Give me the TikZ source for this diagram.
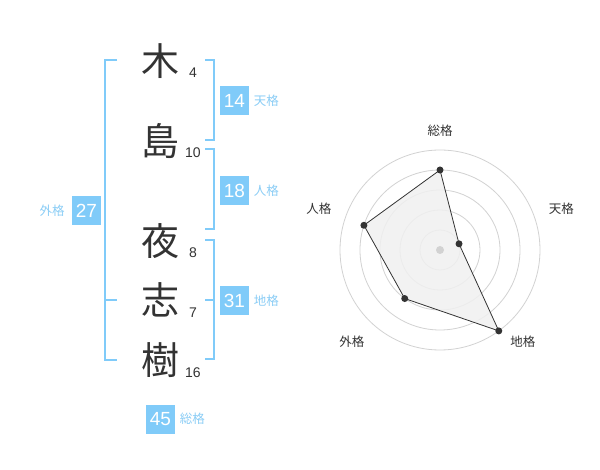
\documentclass[tikz,border=0pt]{standalone}
\usepackage{fontspec}
\setmainfont{Liberation Sans}
\newfontfamily\jpfont{Noto Sans CJK JP}
\usetikzlibrary{positioning}
\definecolor{seiblue}{HTML}{80CBF9}
\definecolor{seilabel}{HTML}{8ACDF6}
\definecolor{inkgray}{HTML}{333333}
\definecolor{ringgray}{HTML}{D2D2D2}
\definecolor{areagray}{HTML}{F0F0F0}
\tikzset{
  kanji/.style={font=\jpfont\fontsize{38}{38}\selectfont, text=inkgray, inner sep=0pt},
  strokes/.style={font=\fontsize{14}{14}\selectfont, text=inkgray, inner sep=0pt},
  kakubox/.style={fill=seiblue, text=white, font=\fontsize{19}{19}\selectfont, minimum size=29pt, inner sep=0pt},
  kakuname/.style={font=\jpfont\fontsize{12.5}{12.5}\selectfont, text=seilabel, inner sep=0pt},
  axisname/.style={font=\jpfont\fontsize{12.5}{12.5}\selectfont, text=inkgray, inner sep=0pt},
  bracket/.style={draw=seiblue, line width=2pt},
  ring/.style={draw=ringgray, line width=0.8pt},
  vdot/.style={circle, fill=inkgray, inner sep=0pt, minimum size=7pt},
}
\begin{document}
\begin{tikzpicture}[x=1pt,y=-1pt]
			\useasboundingbox[fill=white] (0,0) rectangle (600,470);
			% name characters and stroke counts
			\node[kanji] (c1) at (160,61) {木};
			\node[kanji] (c2) at (160,141) {島};
			\node[kanji] (c3) at (160,241) {夜};
			\node[kanji] (c4) at (160,300) {志};
			\node[kanji] (c5) at (160,360) {樹};
			\node[strokes] (s1) at (193,73) {4};
			\node[strokes] (s2) at (193,153) {10};
			\node[strokes] (s3) at (193,253) {8};
			\node[strokes] (s4) at (193,313) {7};
			\node[strokes] (s5) at (193,373) {16};
			
			% brackets
			\draw[bracket] (117,60) -- (105,60) -- (105,360) -- (117,360);
			\draw[bracket] (105,300) -- (117,300);
			\draw[bracket] (205,60) -- (214,60) -- (214,140) -- (205,140);
			\draw[bracket] (205,149) -- (214,149) -- (214,229) -- (205,229);
			\draw[bracket] (205,240) -- (214,240) -- (214,359) -- (205,359);
			\draw[bracket] (205,300) -- (214,300);
			
			% values
			\node[kakubox] (ten) at (234.5,100.5) {14};
			\node[kakuname, right=4.5pt of ten] (tenl) {天格};
			\node[kakubox] (jin) at (234.5,190.5) {18};
			\node[kakuname, right=4.5pt of jin] (jinl) {人格};
			\node[kakubox] (chi) at (234.5,300.5) {31};
			\node[kakuname, right=4.5pt of chi] (chil) {地格};
			\node[kakubox] (gai) at (86.5,210.5) {27};
			\node[kakuname, left=7pt of gai] (gail) {外格};
			\node[kakubox] (sou) at (160.5,419) {45};
			\node[kakuname, right=4.5pt of sou] (soul) {総格};
			
			% radar chart
			\begin{scope}[shift={(440,250)},yscale=-1]
				\foreach \r in {20,40,60,80,100}
					\draw[ring] (0,0) circle (\r);
				\coordinate (psou) at (90:80);
				\coordinate (pten) at (18:20);
				\coordinate (pchi) at (-54:100);
				\coordinate (pgai) at (234:60);
				\coordinate (pjin) at (162:80);
				\draw[fill=areagray, fill opacity=0.85, draw=inkgray, line width=0.8pt]
					(psou) -- (pten) -- (pchi) -- (pgai) -- (pjin) -- cycle;
				\fill[ringgray] (0,0) circle (4);
				\node[vdot] at (psou) {};
				\node[vdot] at (pten) {};
				\node[vdot] at (pchi) {};
				\node[vdot] at (pgai) {};
				\node[vdot] at (pjin) {};
				\node[axisname] (asou) at (90:119) {総格};
				\node[axisname] (aten) at (18.6:128) {天格};
				\node[axisname] (achi) at (-48:124) {地格};
				\node[axisname] (agai) at (226:127) {外格};
				\node[axisname] (ajin) at (161.3:128) {人格};
			\end{scope}
		\end{tikzpicture}
\end{document}
